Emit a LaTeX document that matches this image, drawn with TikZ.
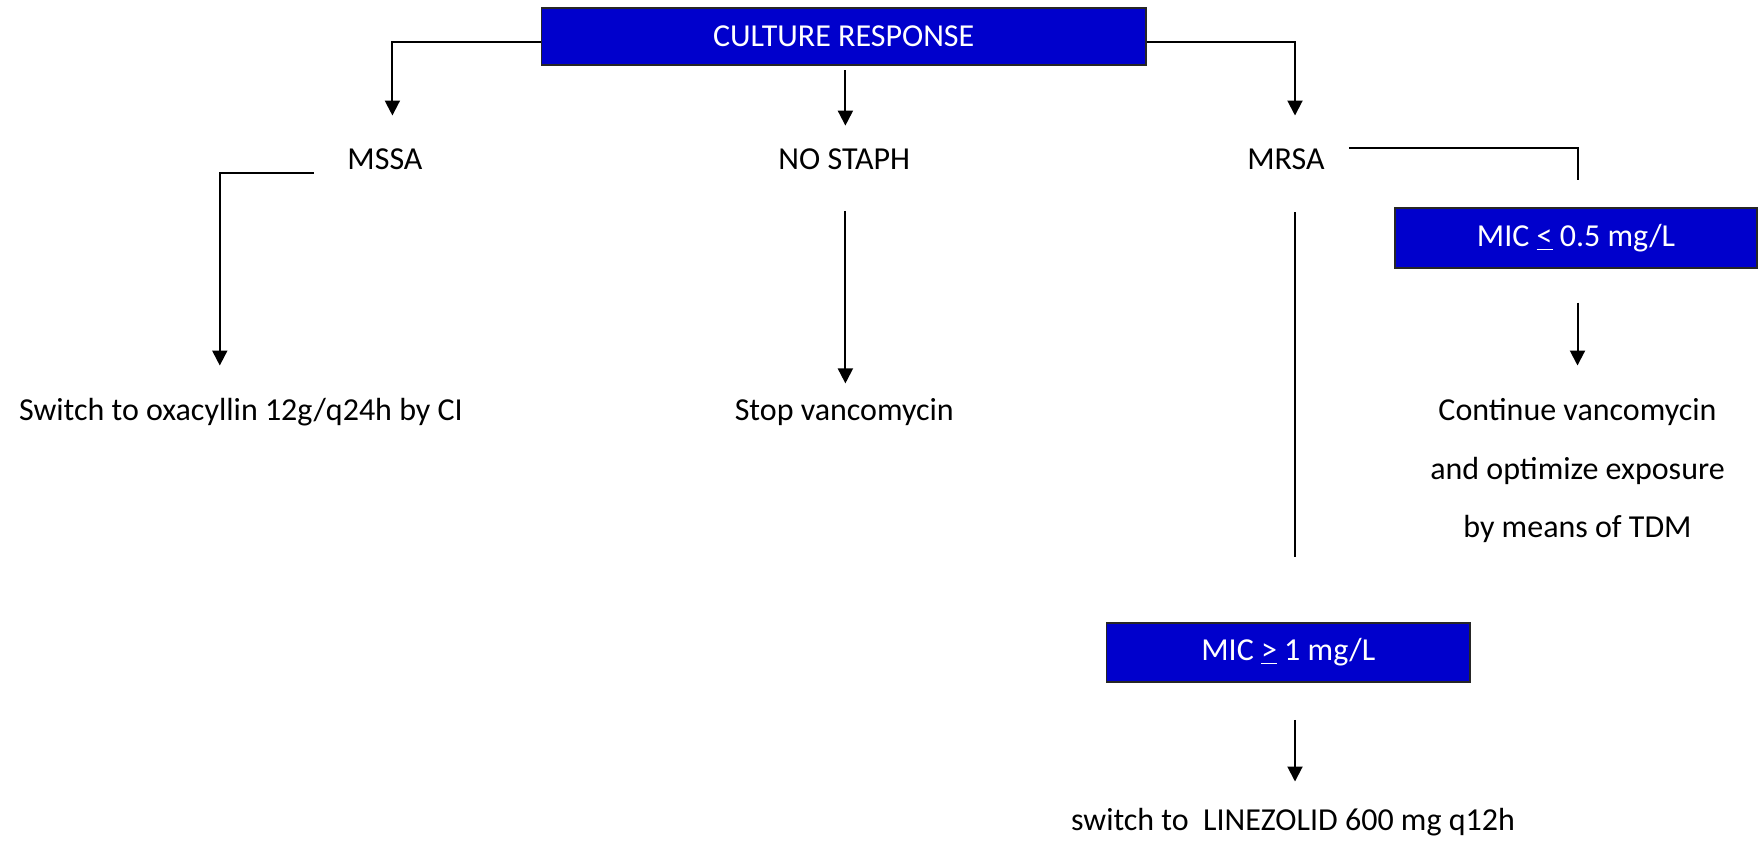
\documentclass[tikz,border=0pt]{standalone}
\usepackage{fontspec}
\setmainfont{Carlito}
\usetikzlibrary{arrows.meta}
\definecolor{boxblue}{RGB}{0,0,204}
\tikzset{
  txt/.style={inner sep=0pt, font=\fontsize{16}{29.2}\selectfont, text=black},
  bluebox/.style={draw=black!85, line width=0.8pt, fill=boxblue, text=white,
    inner sep=0pt, font=\fontsize{16}{18}\selectfont},
  link/.style={draw=black, line width=1pt},
  arr/.style={link, -{Triangle[length=7.5pt,width=7.5pt]}}
}
\begin{document}
\begin{tikzpicture}[x=0.5pt,y=-0.5pt]
  \useasboundingbox (0,0) rectangle (1758,843);
  \clip (0,0) rectangle (1758,843);

  % blue decision boxes
  \node[bluebox, minimum width=302.2pt, minimum height=28.6pt] (top) at (843.7,36.4) {CULTURE RESPONSE};
  \node[bluebox, minimum width=181pt, minimum height=30pt] (micLow) at (1576,238) {MIC \underline{<} 0.5 mg/L};
  \node[bluebox, minimum width=181.7pt, minimum height=29.5pt] (micHigh) at (1288.3,652.5) {MIC \underline{>} 1 mg/L};

  % organism labels
  \node[txt] (mssa) at (385,159.7) {MSSA};
  \node[txt] (nostaph) at (844.3,159.7) {NO STAPH};
  \node[txt] (mrsa) at (1286,159.7) {MRSA};

  % therapy outcomes
  \node[txt, anchor=base] (oxa) at (241,420) {Switch to oxacyllin 12g/q24h by CI};
  \node[txt, anchor=base] (stop) at (844.3,420) {Stop vancomycin};
  \node[txt, anchor=base, align=center] (cont) at (1577.5,537.5) {Continue vancomycin\\and optimize exposure\\by means of TDM};
  \node[txt, anchor=base] (lzd) at (1293,830) {switch to\ \ LINEZOLID 600 mg q12h};

  % connector end points
  \coordinate (tipMssa) at (392.4,115.5);
  \coordinate (midStart) at (845.4,70);
  \coordinate (tipNostaph) at (845.4,125.6);
  \coordinate (tipMrsa) at (1295,115.5);
  \coordinate (mssaStart) at (313.9,172.5);
  \coordinate (tipOxa) at (219.8,365.5);
  \coordinate (nsStart) at (845.4,210.8);
  \coordinate (tipStop) at (845.4,383.4);
  \coordinate (mrsaStart) at (1348.8,147.5);
  \coordinate (mrsaEnd) at (1577.5,180);
  \coordinate (mrsaDownTop) at (1295,212);
  \coordinate (mrsaDownEnd) at (1295,556.5);
  \coordinate (lowStart) at (1577.5,302.7);
  \coordinate (tipCont) at (1577.5,365.5);
  \coordinate (highStart) at (1295,719.8);
  \coordinate (tipLzd) at (1295,781.5);

  % connectors
  \draw[arr] (top.west |- 0,41.6) -| (tipMssa);
  \draw[arr] (midStart) -- (tipNostaph);
  \draw[arr] (top.east |- 0,41.6) -| (tipMrsa);
  \draw[arr] (mssaStart) -| (tipOxa);
  \draw[arr] (nsStart) -- (tipStop);
  \draw[link] (mrsaStart) -| (mrsaEnd);
  \draw[link] (mrsaDownTop) -- (mrsaDownEnd);
  \draw[arr] (lowStart) -- (tipCont);
  \draw[arr] (highStart) -- (tipLzd);
\end{tikzpicture}
\end{document}
